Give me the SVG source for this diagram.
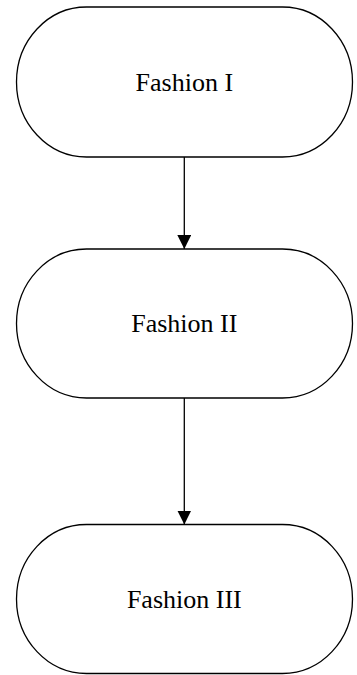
<svg xmlns="http://www.w3.org/2000/svg" width="357" height="675" viewBox="0 0 357 675">
<defs>
<style>
.node{fill:#fff;stroke:#000;stroke-width:1.3}
.lbl{font-size:26px;fill:#000;text-anchor:middle}
.edge{stroke:#000;stroke-width:1.3;fill:none}
</style>
<marker id="arr" markerUnits="userSpaceOnUse" markerWidth="14" markerHeight="16" refX="14" refY="7" orient="auto">
<path d="M0,0 L14,7 L0,14 Z" fill="#000"/>
</marker>
</defs>
<rect width="357" height="675" fill="#fff"/>
<g id="edges">
<line class="edge" x1="184.3" y1="157" x2="184.3" y2="249" marker-end="url(#arr)"/>
<line class="edge" x1="184.3" y1="398" x2="184.3" y2="524.5" marker-end="url(#arr)"/>
</g>
<g id="node1">
<rect class="node" x="16.5" y="7" width="336" height="150" rx="70" ry="75"/>
<text class="lbl" font-family="'Liberation Serif', 'Times New Roman', serif" x="184.3" y="91">Fashion I</text>
</g>
<g id="node2">
<rect class="node" x="16.5" y="249" width="336" height="149" rx="70" ry="74.5"/>
<text class="lbl" font-family="'Liberation Serif', 'Times New Roman', serif" x="184.3" y="332">Fashion II</text>
</g>
<g id="node3">
<rect class="node" x="16.5" y="524.5" width="336" height="149" rx="70" ry="74.5"/>
<text class="lbl" font-family="'Liberation Serif', 'Times New Roman', serif" x="184.3" y="608">Fashion III</text>
</g>
</svg>
